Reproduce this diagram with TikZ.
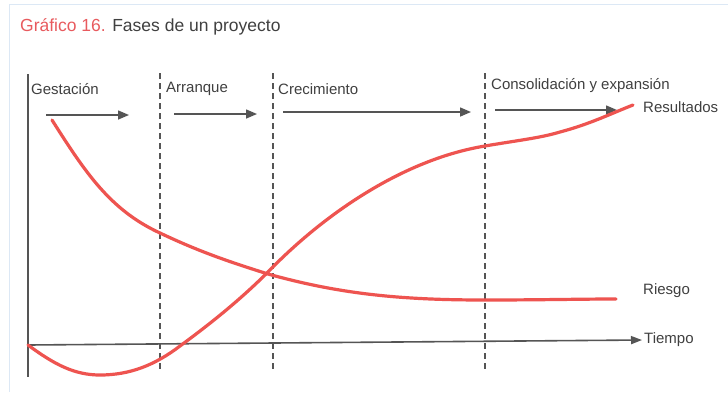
\documentclass[tikz,border=0pt]{standalone}
\usepackage{fontspec}
\setmainfont{Liberation Sans}
\usetikzlibrary{arrows.meta}
\definecolor{curvered}{HTML}{EE5450}
\definecolor{titlered}{HTML}{E85A5E}
\definecolor{txtgray}{HTML}{404040}
\definecolor{axisgray}{HTML}{555555}
\definecolor{frameblue}{HTML}{DCE8F5}
\tikzset{
  lbl/.style={anchor=west, inner sep=0pt, text=txtgray, font=\fontsize{15}{17}\selectfont},
  phasearrow/.style={draw=axisgray, line width=1.5pt, -{Triangle[length=11pt,width=9pt]}},
  divider/.style={draw=axisgray, line width=1.3pt, dash pattern=on 6pt off 4pt},
  axisline/.style={draw=axisgray, line width=1.6pt},
  curve/.style={draw=curvered, line width=3.2pt, line cap=round},
}
\begin{document}
\begin{tikzpicture}[x=1pt,y=-1pt]
\useasboundingbox (0,0) rectangle (728,392);
\fill[white] (0,0) rectangle (728,392);
% frame
\draw[frameblue, line width=1pt] (9,392) -- (9,4) -- (728,4);
% title
\node[anchor=west, inner sep=0pt, font=\fontsize{17.5}{19}\selectfont] (title) at (20,27)
  {\textcolor{titlered}{Gráfico 16.} \textcolor{txtgray}{Fases de un proyecto}};
% axes
\coordinate (ytop) at (28,74);
\coordinate (ybot) at (28,377);
\coordinate (origin) at (28,345);
\coordinate (xend) at (642,340);
\draw[axisline] (ytop) -- (ybot);
\draw[axisline, -{Triangle[length=11pt,width=8pt]}] (origin) -- (xend);
\node[lbl] (tiempo) at (644,340) {Tiempo};
% dividers
\foreach \n/\x in {d1/160, d2/273, d3/485}{
  \coordinate (\n t) at (\x,73);
  \coordinate (\n b) at (\x,372);
  \draw[divider] (\n t) -- (\n b);
}
% phase labels
\node[lbl] (gest) at (31,89) {Gestación};
\node[lbl] (arr) at (166,89) {Arranque};
\node[lbl] (crec) at (278,89) {Crecimiento};
\node[lbl] (cons) at (491,86) {Consolidación y expansión};
% phase arrows
\coordinate (a1s) at (46,115); \coordinate (a1e) at (129,115);
\coordinate (a2s) at (174,114); \coordinate (a2e) at (257,114);
\coordinate (a3s) at (283,112); \coordinate (a3e) at (471,112);
\coordinate (a4s) at (495,110); \coordinate (a4e) at (617,110);
\draw[phasearrow] (a1s) -- (a1e);
\draw[phasearrow] (a2s) -- (a2e);
\draw[phasearrow] (a3s) -- (a3e);
\draw[phasearrow] (a4s) -- (a4e);
% riesgo curve
\draw[curve] (52,120) .. controls (85,172) and (110,210) .. (160,233)
  .. controls (200,252) and (230,262) .. (268,274)
  .. controls (340,294) and (400,300) .. (485,300)
  .. controls (540,300) and (580,299) .. (616,299);
% resultados curve
\draw[curve] (origin) .. controls (55,365) and (75,375) .. (100,375)
  .. controls (130,375) and (155,365) .. (180,346)
  .. controls (210,324) and (240,300) .. (268,272)
  .. controls (320,218) and (400,160) .. (485,146)
  .. controls (520,140) and (540,138) .. (560,132)
  .. controls (590,124) and (610,114) .. (633,105);
\node[lbl] (result) at (643,107) {Resultados};
\node[lbl] (riesgo) at (643,291) {Riesgo};
\end{tikzpicture}
\end{document}
